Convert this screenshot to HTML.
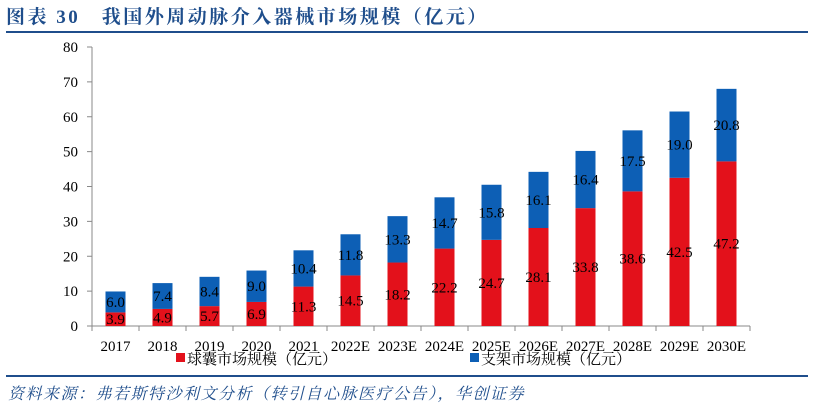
<!DOCTYPE html>
<html><head><meta charset="utf-8">
<style>
body{margin:0;background:#fff;width:814px;height:408px;overflow:hidden;font-family:"Liberation Serif","Noto Serif CJK SC",serif;}
svg text{font-family:"Liberation Serif","Noto Serif CJK SC",serif;}
</style></head>
<body>
<svg width="814" height="408">
<text x="6" y="23" font-size="19" font-weight="bold" letter-spacing="2.5" fill="#1f4e8c">图表 30　我国外周动脉介入器械市场规模（亿元）</text>
<rect x="6" y="31" width="802" height="2" fill="#1f4e8c"/>
<g id="plot"></g>
<rect x="6" y="375" width="802" height="2" fill="#1f4e8c"/>
<text x="8" y="399" font-size="16" font-style="italic" letter-spacing="1.5" fill="#1f4e8c" font-family="'Noto Sans CJK SC',sans-serif">资料来源：弗若斯特沙利文分析（转引自心脉医疗公告），华创证券</text>
</svg>
<script>
const categories=["2017","2018","2019","2020","2021","2022E","2023E","2024E","2025E","2026E","2027E","2028E","2029E","2030E"];
const balloon=[3.9,4.9,5.7,6.9,11.3,14.5,18.2,22.2,24.7,28.1,33.8,38.6,42.5,47.2];
const stent=[6.0,7.4,8.4,9.0,10.4,11.8,13.3,14.7,15.8,16.1,16.4,17.5,19.0,20.8];
const yTicks=[0,10,20,30,40,50,60,70,80];
const NS="http://www.w3.org/2000/svg";
const g=document.getElementById('plot');
const x0=92,step=47,y0=326,pxPer=(326-47)/80,bw=20;
const X=i=>x0+step*i+step/2;
const Y=v=>y0-v*pxPer;
function mk(t,a){const e=document.createElementNS(NS,t);for(const k in a)e.setAttribute(k,a[k]);g.appendChild(e);return e;}
let ax=mk('line',{x1:x0,y1:Y(80),x2:x0,y2:y0,stroke:'#888'});


let bx=mk('line',{x1:x0,y1:y0,x2:x0+step*14,y2:y0,stroke:'#888'});


yTicks.forEach(t=>{
 mk('line',{x1:x0-5,y1:Y(t),x2:x0,y2:Y(t),stroke:'#888'});
 const tx=mk('text',{x:x0-14,y:Y(t)+5,'font-size':15,'text-anchor':'end'});tx.textContent=t;
 
 
});
for(let i=0;i<=14;i++)mk('line',{x1:x0+step*i,y1:y0,x2:x0+step*i,y2:y0+5,stroke:'#888'});
categories.forEach((c,i)=>{
 const cx=X(i);
 const r=mk('rect',{x:cx-bw/2,y:Y(balloon[i]),width:bw,height:balloon[i]*pxPer,fill:'#e3111b'});
 
 
 const b=mk('rect',{x:cx-bw/2,y:Y(balloon[i]+stent[i]),width:bw,height:stent[i]*pxPer,fill:'#0d5fb5'});
 
 
 const l1=mk('text',{x:cx,y:Y(balloon[i]/2)+5,'font-size':15,'text-anchor':'middle'});l1.textContent=balloon[i].toFixed(1);
 
 
 const l2=mk('text',{x:cx,y:Y(balloon[i]+stent[i]/2)+5,'font-size':15,'text-anchor':'middle'});l2.textContent=stent[i].toFixed(1);
 
 
 const xl=mk('text',{x:cx,y:351,'font-size':15,'text-anchor':'middle'});xl.textContent=c;
 
 
});
const legend=[["球囊市场规模（亿元）",'#e3111b',176],["支架市场规模（亿元）",'#0d5fb5',470]];
legend.forEach(([t,c,x])=>{
 const s=mk('rect',{x:x,y:353,width:9,height:9,fill:c});
 
 
 const tx=mk('text',{x:x+11,y:364,'font-size':15,'font-family':"'Noto Sans CJK SC',sans-serif"});tx.textContent=t;
 
 
});
</script>
</body></html>
